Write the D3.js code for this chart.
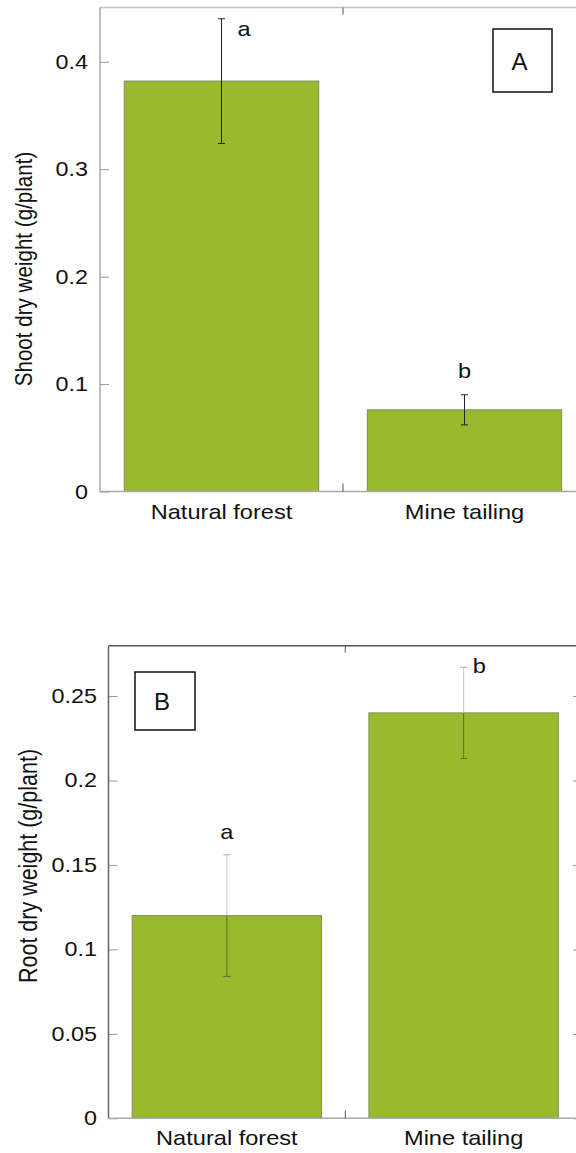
<!DOCTYPE html>
<html>
<head>
<meta charset="utf-8">
<script src="https://cdn.jsdelivr.net/npm/d3@7"></script>
<style>
  * { margin: 0; padding: 0; }
  body { background: #fff; width: 576px; height: 1153px; overflow: hidden; }
  svg { display: block; font-family: "Liberation Sans", Arial, sans-serif; }
</style>
</head>
<body>
<svg id="chart" width="576" height="1153"></svg>
<script>
// data
const categories = ["Natural forest", "Mine tailing"];

const shootMeans = [0.382, 0.076];
const shootErr = [0.058, 0.014];
const shootLetters = ["a", "b"];
const shootTicks = [0, 0.1, 0.2, 0.3, 0.4];

const rootMeans = [0.120, 0.240];
const rootErr = [0.036, 0.027];
const rootLetters = ["a", "b"];
const rootTicks = [0, 0.05, 0.1, 0.15, 0.2, 0.25];

const svg = d3.select("#chart");
const SX = 1.18;          // the original is stretched a bit horizontally
const barFill = "#9aba2d";

// panel layouts
const panels = [
  {
    means: shootMeans, err: shootErr, letters: shootLetters, ticks: shootTicks,
    ymax: 0.4505, left: 100, right: 586, top: 7.5, bottom: 491.5,
    frame: "#c4c4c4", axisLeft: "#a8a8a8", errUpper: "#222", errLower: "#222",
    ylabel: "Shoot dry weight (g/plant)", ylabelX: 32, ylabelY: 269, ylabelSize: 20.6, labelRight: 88,
    // letter offset from top of error bar: [dx, dy, anchor]
    letterPos: [[16, 17, "start"], [0, -17, "middle"]],
    tag: "A", box: [493, 29, 59, 63]
  },
  {
    means: rootMeans, err: rootErr, letters: rootLetters, ticks: rootTicks,
    ymax: 0.2798, left: 108.5, right: 582, top: 645.7, bottom: 1118.3,
    frame: "#555", axisLeft: "#666", errUpper: "#c8c8c8", errLower: "#5a6a3a",
    ylabel: "Root dry weight (g/plant)", ylabelX: 37, ylabelY: 866, ylabelSize: 21.5, labelRight: 97,
    letterPos: [[0, -16, "middle"], [9, 6, "start"]],
    tag: "B", box: [135, 672, 60, 58]
  }
];

panels.forEach(function(p) {
  const g = svg.append("g");

  const x = d3.scaleBand()
    .domain(categories)
    .range([p.left, p.right])
    .paddingInner(0.2)
    .paddingOuter(0.1);

  const y = d3.scaleLinear()
    .domain([0, p.ymax])
    .range([p.bottom, p.top]);

  // frame: top and right lines
  g.append("line")
    .attr("x1", p.left).attr("x2", p.right)
    .attr("y1", p.top).attr("y2", p.top)
    .attr("stroke", p.frame).attr("stroke-width", 1.5);
  g.append("line")
    .attr("x1", p.right).attr("x2", p.right)
    .attr("y1", p.top).attr("y2", p.bottom)
    .attr("stroke", p.frame).attr("stroke-width", 1.5);

  // bars
  g.selectAll("rect.bar")
    .data(p.means)
    .enter().append("rect")
    .attr("class", "bar")
    .attr("x", function(d, i) { return x(categories[i]); })
    .attr("y", function(d) { return y(d); })
    .attr("width", x.bandwidth())
    .attr("height", function(d) { return y(0) - y(d); })
    .attr("fill", barFill)
    .attr("stroke", "#7d8a60")
    .attr("stroke-width", 1);

  // left axis, ticks pointing inwards
  const yAxis = d3.axisLeft(y)
    .tickValues(p.ticks)
    .tickSize(-9)
    .tickPadding(0)
    .tickFormat(function(d) { return d === 0 ? "0" : String(+d.toFixed(2)); });

  const ya = g.append("g")
    .attr("transform", "translate(" + p.left + ",0)")
    .call(yAxis);
  ya.select(".domain").remove();
  ya.selectAll(".tick line").attr("stroke", "#999");
  ya.selectAll(".tick text").remove();
  g.append("line")
    .attr("x1", p.left).attr("x2", p.left)
    .attr("y1", p.top).attr("y2", p.bottom)
    .attr("stroke", p.axisLeft).attr("stroke-width", 1.5);

  // right ticks mirrored
  const yAxisR = d3.axisRight(y).tickValues(p.ticks).tickSize(-9).tickFormat("");
  const yr = g.append("g")
    .attr("transform", "translate(" + p.right + ",0)")
    .call(yAxisR);
  yr.select(".domain").remove();
  yr.selectAll(".tick line").attr("stroke", "#999");

  // tick labels (stretched text)
  g.selectAll("text.ytick")
    .data(p.ticks)
    .enter().append("text")
    .attr("class", "ytick")
    .attr("transform", function(d) {
      return "translate(" + p.labelRight + "," + (y(d) + 7) + ") scale(" + SX + ",1)";
    })
    .attr("text-anchor", "end")
    .attr("font-size", 19.8)
    .attr("fill", "#111")
    .text(function(d) { return d === 0 ? "0" : String(+d.toFixed(2)); });

  // bottom axis line
  g.append("line")
    .attr("x1", p.left).attr("x2", p.right)
    .attr("y1", p.bottom).attr("y2", p.bottom)
    .attr("stroke", "#aaa").attr("stroke-width", 1.5);

  // divider ticks between categories (bottom and top)
  const mid = x(categories[1]) - x.step() * x.paddingInner() / 2;
  g.append("line")
    .attr("x1", mid).attr("x2", mid)
    .attr("y1", p.bottom).attr("y2", p.bottom - 8)
    .attr("stroke", "#555");
  g.append("line")
    .attr("x1", mid).attr("x2", mid)
    .attr("y1", p.top).attr("y2", p.top + 7)
    .attr("stroke", "#555");

  // category labels
  g.selectAll("text.cat")
    .data(categories)
    .enter().append("text")
    .attr("class", "cat")
    .attr("transform", function(d) {
      return "translate(" + (x(d) + x.bandwidth() / 2) + "," + (p.bottom + 27) + ") scale(" + SX + ",1)";
    })
    .attr("text-anchor", "middle")
    .attr("font-size", 20)
    .attr("fill", "#111")
    .text(function(d) { return d; });

  // error bars
  p.means.forEach(function(m, i) {
    const cx = x(categories[i]) + x.bandwidth() / 2;
    const hi = y(m + p.err[i]), lo = y(m - p.err[i]), mid = y(m);
    g.append("line")
      .attr("x1", cx).attr("x2", cx).attr("y1", hi).attr("y2", mid)
      .attr("stroke", p.errUpper).attr("stroke-width", 1);
    g.append("line")
      .attr("x1", cx).attr("x2", cx).attr("y1", mid).attr("y2", lo)
      .attr("stroke", p.errLower).attr("stroke-width", 1);
    g.append("line")
      .attr("x1", cx - 3.5).attr("x2", cx + 3.5).attr("y1", hi).attr("y2", hi)
      .attr("stroke", p.errUpper === "#222" ? "#222" : "#aaa").attr("stroke-width", 1);
    g.append("line")
      .attr("x1", cx - 3.5).attr("x2", cx + 3.5).attr("y1", lo).attr("y2", lo)
      .attr("stroke", p.errLower).attr("stroke-width", 1);

    const lp = p.letterPos[i];
    g.append("text")
      .attr("transform", "translate(" + (cx + lp[0]) + "," + (hi + lp[1]) + ") scale(" + SX + ",1)")
      .attr("text-anchor", lp[2])
      .attr("font-size", 20)
      .attr("fill", "#111")
      .text(p.letters[i]);
  });

  // y axis title
  g.append("text")
    .attr("transform", "translate(" + p.ylabelX + "," + p.ylabelY + ") scale(" + SX + ",1) rotate(-90)")
    .attr("text-anchor", "middle")
    .attr("font-size", p.ylabelSize)
    .attr("fill", "#111")
    .text(p.ylabel);

  // panel tag box
  g.append("rect")
    .attr("x", p.box[0]).attr("y", p.box[1])
    .attr("width", p.box[2]).attr("height", p.box[3])
    .attr("fill", "#fff").attr("stroke", "#111").attr("stroke-width", 1.5);
  g.append("text")
    .attr("x", p.box[0] + p.box[2] / 2 - 3)
    .attr("y", p.box[1] + p.box[3] / 2 + 9)
    .attr("text-anchor", "middle")
    .attr("font-size", 24)
    .attr("fill", "#111")
    .text(p.tag);
});
</script>
</body>
</html>
